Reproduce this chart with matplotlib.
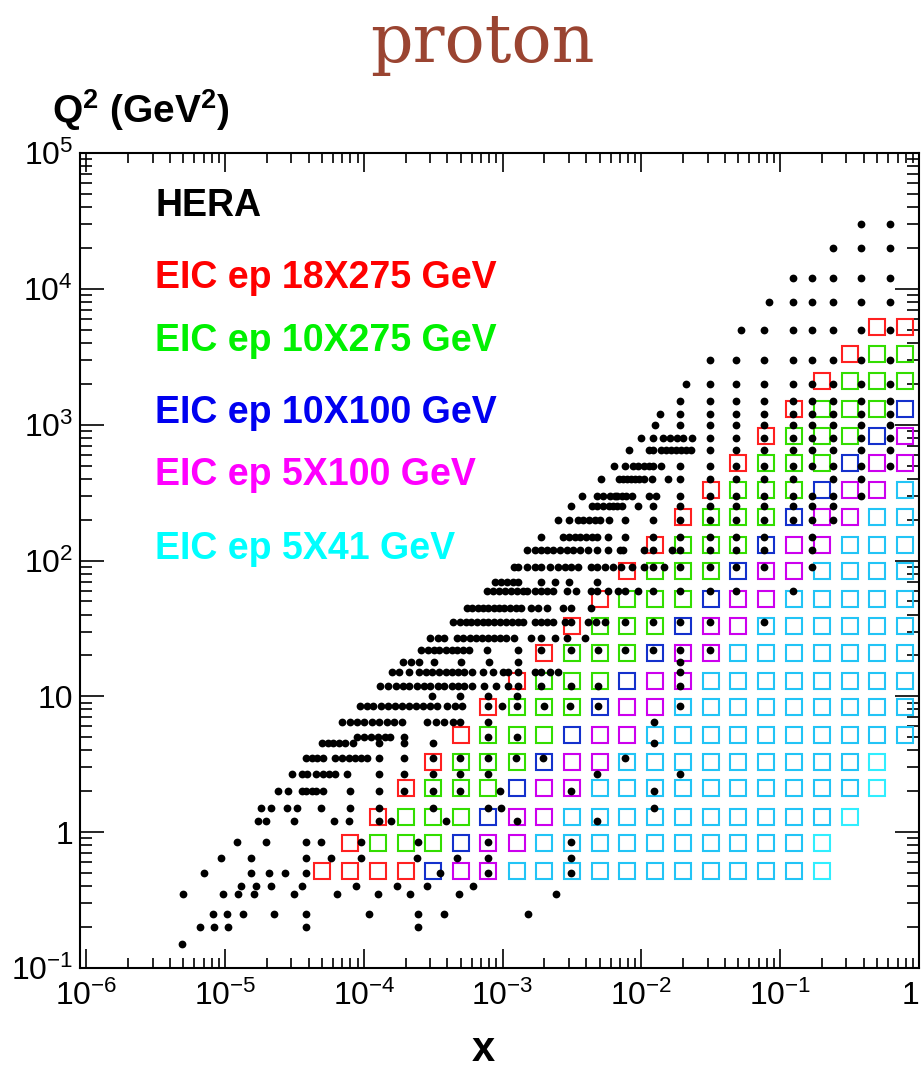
import numpy as np
import matplotlib
matplotlib.use('Agg')
import matplotlib.pyplot as plt
from matplotlib.ticker import LogLocator, NullFormatter

plt.rcParams['font.family'] = ['Liberation Sans', 'DejaVu Sans']
plt.rcParams['mathtext.fontset'] = 'custom'
plt.rcParams['mathtext.rm'] = 'Liberation Sans'
plt.rcParams['mathtext.it'] = 'Liberation Sans:italic'
plt.rcParams['mathtext.bf'] = 'Liberation Sans:bold'

###############################################################################
# HERA points: one row of x values per Q2 bin
hera_q2 = [0.15, 0.2, 0.25, 0.35, 0.4, 0.5, 0.65, 0.85, 1.2, 1.5, 2.0, 2.7,
           3.5, 4.5, 5.0, 6.5, 8.5, 10, 12, 15, 18, 22, 27, 35, 45, 60, 70,
           90, 120, 150, 200, 250, 300, 400, 500, 650, 800, 1000, 1200, 1500,
           2000, 3000, 5000, 8000, 12000, 20000, 30000]
hera_x = [
    [4.9e-6],
    [6.6e-6, 8.3e-6, 1.05e-5, 3.85e-5, 2.45e-4],
    [8.2e-6, 1.03e-5, 1.35e-5, 2.26e-5, 3.85e-5, 1.09e-4, 2.45e-4, 3.8e-4, 1.52e-3],
    [5.0e-6, 9.7e-6, 1.24e-5, 1.62e-5, 3.16e-5, 6.45e-5, 1.26e-4, 2.15e-4, 4.85e-4, 2.42e-3],
    [1.3e-5, 1.68e-5, 2.15e-5, 3.6e-5, 8.7e-5, 1.73e-4, 2.86e-4, 6.1e-4],
    [7.1e-6, 1.54e-5, 2.08e-5, 2.72e-5, 3.85e-5, 3.55e-4, 7.9e-4, 3.1e-3],
    [9.3e-6, 1.54e-5, 3.85e-5, 5.8e-5, 9.6e-5, 2.42e-4, 4.7e-4, 7.8e-4, 3.1e-3],
    [1.22e-5, 1.98e-5, 3.85e-5, 4.9e-5, 9.6e-5, 2.45e-4, 7.8e-4, 3.1e-3],
    [1.73e-5, 1.98e-5, 3.16e-5, 6.1e-5, 7.8e-5, 1.28e-4, 1.57e-4, 3.9e-4, 1.26e-3, 4.8e-3],
    [1.82e-5, 2.15e-5, 2.77e-5, 3.3e-5, 4.9e-5, 7.9e-5, 1.28e-4, 3.16e-4, 7.9e-4, 9.7e-4, 1.24e-2],
    [2.42e-5, 2.86e-5, 3.6e-5, 3.85e-5, 4.2e-5, 4.55e-5, 5.1e-5, 7.9e-5, 1.28e-4, 1.95e-4,
     3.16e-4, 4.95e-4, 9.5e-4, 3.1e-3, 1.24e-2],
    [3.05e-5, 3.6e-5, 3.9e-5, 4.5e-5, 5.1e-5, 5.6e-5, 6.2e-5, 7.5e-5, 1.28e-4, 1.95e-4,
     3.16e-4, 4.95e-4, 7.9e-4, 4.8e-3, 1.9e-2],
    [3.85e-5, 4.2e-5, 4.6e-5, 5.1e-5, 6.2e-5, 7.0e-5, 7.8e-5, 8.6e-5, 9.6e-5, 1.05e-4,
     1.28e-4, 1.95e-4, 3.16e-4, 4.95e-4, 7.9e-4, 1.24e-3, 1.95e-3, 7.6e-3],
    [5.0e-5, 5.5e-5, 6.0e-5, 6.6e-5, 7.3e-5, 8.3e-5, 1.28e-4, 1.95e-4, 3.16e-4, 1.24e-2],
    [8.9e-5, 1.0e-4, 1.12e-4, 1.26e-4, 1.42e-4, 1.54e-4, 1.95e-4, 7.9e-4, 1.26e-3],
    [7.0e-5, 7.9e-5, 8.9e-5, 1.01e-4, 1.14e-4, 1.29e-4, 1.46e-4, 1.66e-4, 1.87e-4, 2.86e-4,
     3.3e-4, 3.8e-4, 4.4e-4, 4.95e-4, 7.9e-4, 1.24e-2],
    [9.3e-5, 1.05e-4, 1.17e-4, 1.32e-4, 1.49e-4, 1.67e-4, 1.88e-4, 2.1e-4, 2.37e-4, 2.66e-4,
     3.0e-4, 3.36e-4, 3.96e-4, 4.5e-4, 5.1e-4, 7.8e-4, 9.9e-4, 1.26e-3, 2.0e-3, 3.05e-3,
     4.9e-3, 1.9e-2],
    [3.1e-4, 4.95e-4, 7.8e-4, 1.26e-3],
    [1.3e-4, 1.5e-4, 1.7e-4, 1.9e-4, 2.1e-4, 2.4e-4, 2.7e-4, 3.0e-4, 3.4e-4, 3.8e-4, 4.3e-4,
     4.8e-4, 5.3e-4, 6.0e-4, 7.3e-4, 8.9e-4, 1.1e-3, 1.3e-3, 1.9e-3, 3.1e-3, 4.9e-3, 1.9e-2],
    [1.6e-4, 1.8e-4, 2.1e-4, 2.5e-4, 2.8e-4, 3.1e-4, 3.5e-4, 3.9e-4, 4.3e-4, 4.8e-4, 5.3e-4,
     6.0e-4, 7.2e-4, 8.5e-4, 1.0e-3, 1.1e-3, 1.3e-3, 1.7e-3, 1.9e-3, 2.2e-3, 2.5e-3, 1.9e-2],
    [1.9e-4, 2.2e-4, 2.5e-4, 3.2e-4, 5.0e-4, 8.0e-4, 1.3e-3, 1.9e-2],
    [2.6e-4, 2.9e-4, 3.2e-4, 3.5e-4, 3.9e-4, 4.3e-4, 4.7e-4, 5.2e-4, 5.7e-4, 7.7e-4, 1.3e-3,
     1.9e-3, 3.1e-3, 4.9e-3, 7.6e-3, 1.22e-2, 1.9e-2, 3.1e-2],
    [3.0e-4, 3.4e-4, 3.8e-4, 4.7e-4, 5.2e-4, 5.8e-4, 6.4e-4, 7.1e-4, 7.8e-4, 8.6e-4, 9.5e-4,
     1.05e-3, 1.2e-3, 1.6e-3, 1.9e-3, 2.4e-3, 2.9e-3, 3.9e-3],
    [4.4e-4, 4.9e-4, 5.4e-4, 5.9e-4, 6.5e-4, 7.2e-4, 7.9e-4, 8.7e-4, 9.6e-4, 1.06e-3, 1.17e-3,
     1.29e-3, 1.4e-3, 1.7e-3, 1.9e-3, 2.1e-3, 2.3e-3, 2.8e-3, 3.1e-3, 4.1e-3, 4.7e-3, 5.5e-3,
     7.6e-3, 1.22e-2, 1.9e-2, 3.1e-2, 7.6e-2],
    [5.5e-4, 6.0e-4, 6.6e-4, 7.2e-4, 7.8e-4, 8.6e-4, 9.4e-4, 1.03e-3, 1.13e-3, 1.24e-3, 1.36e-3,
     1.6e-3, 1.8e-3, 2.1e-3, 2.7e-3, 3.1e-3, 4.3e-3],
    [7.7e-4, 8.5e-4, 9.4e-4, 1.04e-3, 1.15e-3, 1.27e-3, 1.4e-3, 1.5e-3, 1.7e-3, 1.9e-3, 2.1e-3,
     2.3e-3, 2.9e-3, 3.4e-3, 4.3e-3, 4.8e-3, 5.7e-3, 6.8e-3, 7.6e-3, 9.5e-3, 1.22e-2, 1.9e-2,
     3.1e-2, 4.8e-2, 0.124],
    [8.8e-4, 9.7e-4, 1.07e-3, 1.18e-3, 1.3e-3, 1.9e-3, 2.4e-3, 3.0e-3, 4.8e-3],
    [1.2e-3, 1.3e-3, 1.5e-3, 1.7e-3, 1.9e-3, 2.2e-3, 2.5e-3, 2.8e-3, 3.1e-3, 3.5e-3, 4.3e-3,
     4.8e-3, 5.5e-3, 6.2e-3, 7.1e-3, 8.6e-3, 1.04e-2, 1.22e-2, 1.45e-2, 1.9e-2, 3.1e-2, 4.8e-2,
     7.6e-2, 0.17],
    [1.5e-3, 1.7e-3, 1.9e-3, 2.1e-3, 2.3e-3, 2.6e-3, 2.9e-3, 3.2e-3, 3.6e-3, 4.1e-3, 4.8e-3,
     5.7e-3, 7.0e-3, 7.4e-3, 1.04e-2, 1.22e-2, 1.65e-2, 1.9e-2, 3.1e-2, 4.8e-2, 7.6e-2, 0.17],
    [1.9e-3, 2.7e-3, 3.0e-3, 3.3e-3, 3.6e-3, 4.0e-3, 4.4e-3, 4.8e-3, 5.7e-3, 7.6e-3, 1.22e-2,
     1.9e-2, 3.1e-2, 4.8e-2, 7.6e-2, 0.17],
    [2.5e-3, 3.0e-3, 3.5e-3, 3.8e-3, 4.2e-3, 4.6e-3, 5.0e-3, 5.8e-3, 7.6e-3, 1.22e-2, 1.9e-2,
     3.1e-2, 4.8e-2, 7.6e-2, 0.124, 0.17, 0.24],
    [3.1e-3, 4.4e-3, 4.8e-3, 5.3e-3, 5.8e-3, 6.2e-3, 6.7e-3, 7.2e-3, 9.5e-3, 1.22e-2, 1.9e-2,
     3.1e-2, 4.8e-2, 7.6e-2, 0.124, 0.17, 0.24],
    [3.7e-3, 4.8e-3, 5.3e-3, 5.9e-3, 6.4e-3, 6.7e-3, 7.2e-3, 7.8e-3, 8.6e-3, 1.13e-2, 1.27e-2,
     1.9e-2, 3.1e-2, 4.8e-2, 7.6e-2, 0.124, 0.17, 0.24, 0.38],
    [5.1e-3, 6.9e-3, 7.4e-3, 7.9e-3, 8.4e-3, 9.0e-3, 9.6e-3, 1.04e-2, 1.2e-2, 1.55e-2, 1.9e-2,
     3.1e-2, 4.8e-2, 7.6e-2, 0.124, 0.24, 0.38],
    [6.3e-3, 7.6e-3, 8.7e-3, 9.5e-3, 1.04e-2, 1.13e-2, 1.22e-2, 1.38e-2, 1.9e-2, 3.1e-2, 4.8e-2,
     7.6e-2, 0.124, 0.17, 0.24, 0.38, 0.62],
    [8.2e-3, 1.13e-2, 1.22e-2, 1.38e-2, 1.5e-2, 1.63e-2, 1.77e-2, 1.92e-2, 2.08e-2, 2.27e-2,
     3.1e-2, 4.8e-2, 7.6e-2, 0.124, 0.17, 0.24, 0.38, 0.62],
    [9.9e-3, 1.22e-2, 1.42e-2, 1.6e-2, 1.8e-2, 2.0e-2, 2.3e-2, 3.1e-2, 4.8e-2, 7.6e-2, 0.124,
     0.17, 0.24, 0.38, 0.62],
    [1.25e-2, 1.9e-2, 3.1e-2, 4.8e-2, 7.6e-2, 0.124, 0.17, 0.24, 0.38, 0.62],
    [1.36e-2, 1.9e-2, 3.1e-2, 4.8e-2, 7.6e-2, 0.124, 0.17, 0.24, 0.38, 0.62],
    [1.9e-2, 3.1e-2, 4.8e-2, 7.6e-2, 0.124, 0.17, 0.24, 0.38, 0.62],
    [2.1e-2, 3.1e-2, 4.8e-2, 7.6e-2, 0.124, 0.17, 0.24, 0.38, 0.62],
    [3.1e-2, 4.8e-2, 7.6e-2, 0.124, 0.17, 0.24, 0.38, 0.62],
    [5.2e-2, 7.6e-2, 0.124, 0.17, 0.24, 0.38, 0.62],
    [8.3e-2, 0.124, 0.17, 0.24, 0.38, 0.62],
    [0.124, 0.17, 0.24, 0.38, 0.62],
    [0.24, 0.38, 0.62],
    [0.38, 0.62],
]

###############################################################################
# EIC pseudo-data grid: bin centres and which beam setting fills each cell
eic_x = [5.0e-5, 7.9e-5, 1.26e-4, 2.0e-4, 3.16e-4, 5.0e-4, 7.9e-4, 1.26e-3,
         2.0e-3, 3.16e-3, 5.0e-3, 7.9e-3, 1.26e-2, 2.0e-2, 3.16e-2, 5.0e-2,
         7.9e-2, 0.126, 0.2, 0.316, 0.5, 0.79]
eic_q2 = [0.52, 0.83, 1.3, 2.1, 3.3, 5.2, 8.3, 13, 21, 33, 52, 83, 130, 210,
          330, 520, 830, 1300, 2100, 3300, 5200]
# R 18x275, G 10x275, B 10x100, M 5x100, C/c 5x41 (bottom row first)
eic_cells = [
    'RRRRBMMCCCCCCCCCCCc...',
    '.RGGGBMMCCCCCCCCCCc...',
    '..RGGGBMMCCCCCCCCCCc..',
    '...RGGGBMMCCCCCCCCCCc.',
    '....RGGGBMMCCCCCCCCCc.',
    '.....RGGGBMMCCCCCCCCCC',
    '......RGGGBMMCCCCCCCCC',
    '.......RGGGBMMCCCCCCCC',
    '........RGGGBMMCCCCCCC',
    '.........RGGGBMMCCCCCC',
    '..........RGGGBMMCCCCC',
    '...........RGGGBMMCCCC',
    '............RGGGBMMCCC',
    '.............RGGGBMMCC',
    '..............RGGGBMMC',
    '...............RGGGBMM',
    '................RGGGBM',
    '.................RGGGB',
    '..................RGGG',
    '...................RGG',
    '....................RR',
]
cell_colors = {'R': '#ff2020', 'G': '#33dd00', 'B': '#1430cc',
               'M': '#cc00ee', 'C': '#22c4f6', 'c': '#30eeff'}

legend_labels = ['HERA', 'EIC ep 18X275 GeV', 'EIC ep 10X275 GeV',
                 'EIC ep 10X100 GeV', 'EIC ep 5X100 GeV', 'EIC ep 5X41 GeV']
legend_colors = ['black', '#ff0000', '#00f000', '#0000f0', '#ff00ff', '#00ffff']
legend_baseline_px = [216, 288, 351, 423, 485, 559]

xtick_vals = [1e-6, 1e-5, 1e-4, 1e-3, 1e-2, 1e-1, 1]
xtick_labels = ['$10^{-6}$', '$10^{-5}$', '$10^{-4}$', '$10^{-3}$',
                '$10^{-2}$', '$10^{-1}$', '1']
ytick_vals = [1e-1, 1, 10, 1e2, 1e3, 1e4, 1e5]
ytick_labels = ['$10^{-1}$', '1', '10', '$10^{2}$', '$10^{3}$', '$10^{4}$',
                '$10^{5}$']

###############################################################################
W, H = 922, 1068
fig = plt.figure(figsize=(W / 100, H / 100), dpi=100)
ax = fig.add_axes([80 / W, 100 / H, 839 / W, 815 / H])
ax.set_xscale('log')
ax.set_yscale('log')
ax.set_xlim(9e-7, 1)
ax.set_ylim(0.1, 1e5)

# EIC squares, grouped by colour
for key, col in cell_colors.items():
    xs, ys = [], []
    for j, row in enumerate(eic_cells):
        for i, ch in enumerate(row):
            if ch == key:
                xs.append(eic_x[i])
                ys.append(eic_q2[j])
    ax.plot(xs, ys, 's', ms=11.5, mfc='none', mec=col, mew=1.5, zorder=2)

# HERA dots
for q2, xs in zip(hera_q2, hera_x):
    ax.plot(xs, [q2] * len(xs), 'o', color='black', ms=5.6, mew=0, zorder=3)

ax.set_xticks(xtick_vals)
ax.set_xticklabels(xtick_labels)
ax.set_yticks(ytick_vals)
ax.set_yticklabels(ytick_labels)
for axis in (ax.xaxis, ax.yaxis):
    axis.set_minor_locator(LogLocator(base=10, subs=np.arange(2, 10), numticks=20))
    axis.set_minor_formatter(NullFormatter())

ax.tick_params(which='both', direction='in', top=True, right=True, width=1.2,
               labelsize=23, colors='black')
ax.tick_params(axis='x', which='major', length=14, pad=9)
ax.tick_params(axis='x', which='minor', length=7)
ax.tick_params(axis='y', which='major', length=17, pad=5)
ax.tick_params(axis='y', which='minor', length=8.5)
ax.get_xticklabels()[-1].set_horizontalalignment('right')
for sp in ax.spines.values():
    sp.set_linewidth(1.5)

# texts
for lab, col, yb in zip(legend_labels, legend_colors, legend_baseline_px):
    fig.text(155 / W, 1 - yb / H, lab, color=col, fontsize=27,
             fontweight='bold', va='baseline', ha='left')

fig.text(482 / W, 1 - 62 / H, 'proton', family='DejaVu Serif', fontsize=48,
         color='#9a4431', ha='center', va='baseline')
fig.text(52 / W, 1 - 110 / H, r'$\mathbf{Q^{2}\ (GeV^{2})}$', fontsize=28,
         ha='left', va='center')
fig.text(483 / W, 1 - 1050 / H, 'x', fontsize=30, fontweight='bold',
         ha='center', va='center')

fig.savefig('out.png', dpi=100)
